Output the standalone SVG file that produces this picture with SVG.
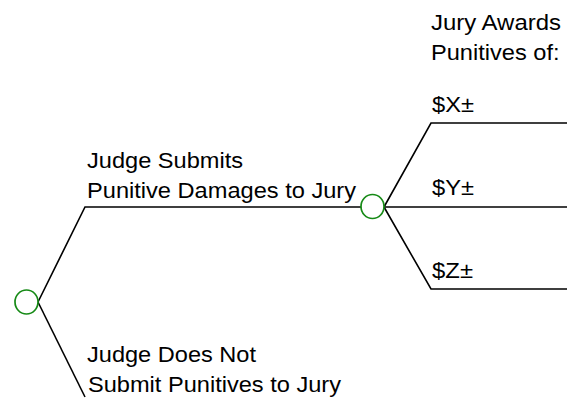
<svg xmlns="http://www.w3.org/2000/svg" width="567" height="398" viewBox="0 0 567 398">
  <style>
    .edge { fill: none; stroke: #000; stroke-width: 1.6; stroke-linejoin: miter; }
    .chance { fill: #fff; stroke: #168a16; stroke-width: 1.7; }
    text { font-family: "Liberation Sans", Arial, sans-serif; font-size: 22px; fill: #000; }
  </style>
  <rect width="567" height="398" fill="#fff"/>

  <!-- branches -->
  <g id="connectors">
    <polyline class="edge" points="38,302 85,207 361,207"/>
    <polyline class="edge" points="38,302 85,397"/>
    <polyline class="edge" points="384,207 431,123 567,123"/>
    <polyline class="edge" points="384,207 567,207"/>
    <polyline class="edge" points="384,207 431,289 567,289"/>
  </g>

  <!-- chance nodes -->
  <g id="node-root">
    <ellipse class="chance" cx="26.5" cy="302" rx="11.5" ry="12"/>
  </g>
  <g id="node-jury">
    <ellipse class="chance" cx="372.5" cy="206.5" rx="11.5" ry="12"/>
  </g>

  <!-- branch labels -->
  <g id="label-submit">
    <text x="87" y="168" textLength="156" lengthAdjust="spacingAndGlyphs">Judge Submits</text>
    <text x="87" y="198" textLength="269" lengthAdjust="spacingAndGlyphs">Punitive Damages to Jury</text>
  </g>
  <g id="label-not-submit">
    <text x="87" y="362" textLength="169" lengthAdjust="spacingAndGlyphs">Judge Does Not</text>
    <text x="88" y="392" textLength="253" lengthAdjust="spacingAndGlyphs">Submit Punitives to Jury</text>
  </g>
  <g id="label-header">
    <text x="431" y="30" textLength="130" lengthAdjust="spacingAndGlyphs">Jury Awards</text>
    <text x="431" y="60" textLength="128.5" lengthAdjust="spacingAndGlyphs">Punitives of:</text>
  </g>
  <g id="label-x">
    <text x="432" y="112" textLength="42" lengthAdjust="spacingAndGlyphs">$X±</text>
  </g>
  <g id="label-y">
    <text x="432" y="195" textLength="42" lengthAdjust="spacingAndGlyphs">$Y±</text>
  </g>
  <g id="label-z">
    <text x="432" y="278" textLength="41" lengthAdjust="spacingAndGlyphs">$Z±</text>
  </g>
</svg>
